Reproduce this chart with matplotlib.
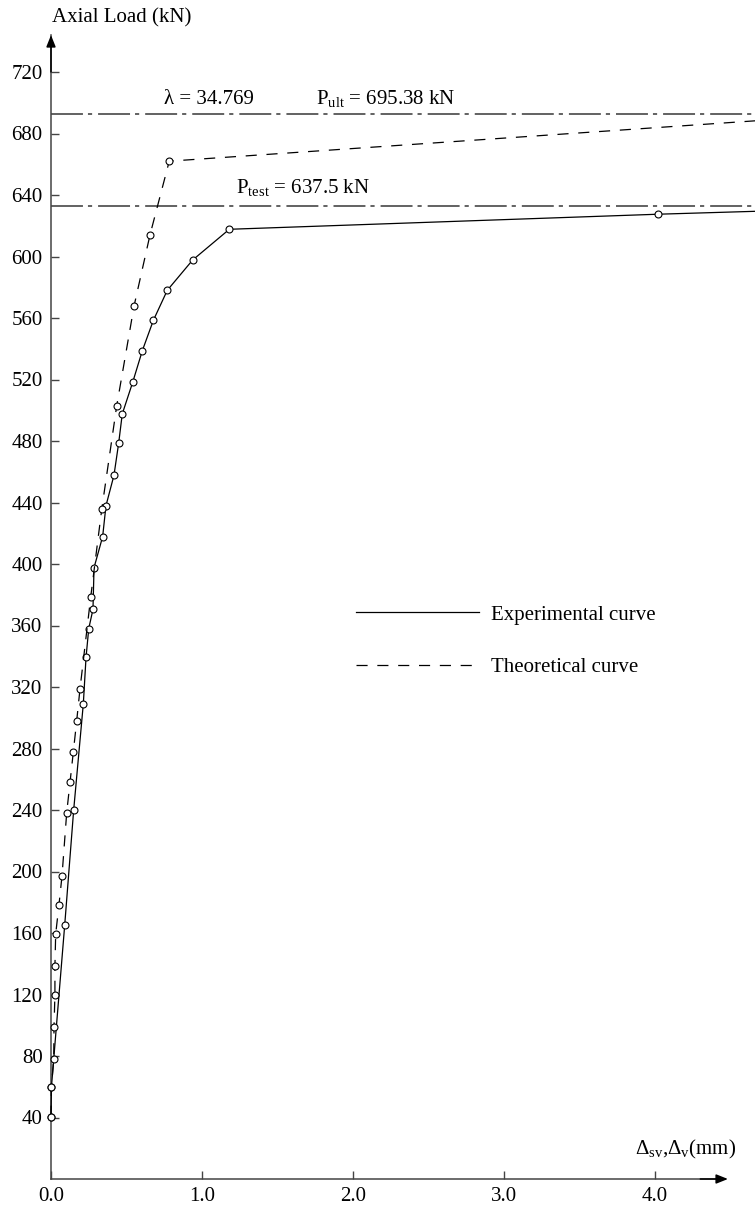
import matplotlib
matplotlib.use("Agg")
from matplotlib import pyplot as plt
from matplotlib.lines import Line2D

# experimental curve (displacement mm, load kN); last point only carries the line to the edge
exp_x = [0.0, 0.003, 0.091, 0.150, 0.214, 0.232, 0.250, 0.278, 0.285, 0.342, 0.364,
         0.417, 0.448, 0.472, 0.541, 0.605, 0.678, 0.770, 0.938, 1.181, 4.02, 4.70]
exp_y = [40.5, 60, 165.4, 239.8, 309, 339.3, 358, 370.5, 397.6, 417.8, 437.9,
         457.7, 478.5, 497.6, 518.2, 538.8, 558.5, 578, 597.7, 617.7, 627.5, 629.5]

# theoretical curve
theo_x = [0.0, 0.003, 0.018, 0.020, 0.026, 0.026, 0.031, 0.053, 0.073, 0.104, 0.126,
          0.148, 0.170, 0.192, 0.263, 0.336, 0.435, 0.550, 0.656, 0.783, 4.70]
theo_y = [40.5, 60, 78, 99, 120, 138.5, 159.3, 178.4, 197.3, 238.3, 258,
          277.9, 297.9, 318.7, 378.5, 435.6, 502.8, 567.8, 614.2, 662, 688.5]

p_ult_line = 693
p_test_line = 633

x_ticks = [0.0, 1.0, 2.0, 3.0, 4.0]
y_ticks = list(range(40, 721, 40))

plt.rcParams['font.family'] = ['Liberation Serif', 'DejaVu Serif']
plt.rcParams['mathtext.fontset'] = 'custom'
plt.rcParams['mathtext.rm'] = 'Liberation Serif'
plt.rcParams['mathtext.it'] = 'Liberation Serif:italic'
plt.rcParams['lines.scale_dashes'] = False
fs = 15

fig = plt.figure(figsize=(7.55, 12.07), dpi=100)
W, H = 755, 1207
ax = fig.add_axes([51 / W, 28 / H, (W - 51) / W, (1179 - 35) / H])
ax.set_xlim(0, 704 / 151)
ax.set_ylim(0, 1144 / 1.5375)

axis_col = '#444444'
for s in ['top', 'right']:
    ax.spines[s].set_visible(False)
for s in ['left', 'bottom']:
    ax.spines[s].set_color(axis_col)
    ax.spines[s].set_linewidth(1.1)
ax.spines['bottom'].set_bounds(0, 4.42)

ax.set_xticks(x_ticks)
ax.set_xticklabels(['%.1f' % v for v in x_ticks])
ax.set_yticks(y_ticks)
ax.tick_params(direction='in', length=5.5, width=1, color=axis_col,
               labelsize=fs, pad=6)

arrow = dict(arrowstyle='-|>,head_length=0.5,head_width=0.2', color='black',
             lw=1.1, mutation_scale=14, shrinkA=0, shrinkB=0)
ax.annotate('', xy=(4.483, 0), xytext=(4.3, 0), arrowprops=arrow)
ax.annotate('', xy=(0, 744), xytext=(0, 720), arrowprops=arrow)

dashdot = (0, (23, 3.6, 3, 4.3))
ax.axhline(p_ult_line, color='#555555', lw=1.3, linestyle=dashdot)
ax.axhline(p_test_line, color='#555555', lw=1.3, linestyle=dashdot)

mk = dict(marker='o', ms=5, mfc='white', mec='black', mew=0.8, clip_on=False, zorder=3)
ax.plot(exp_x, exp_y, color='black', lw=0.9, markevery=list(range(len(exp_x) - 1)), **mk)
ax.plot(theo_x, theo_y, color='black', lw=0.9, linestyle=(0, (8, 7)),
        markevery=list(range(len(theo_x) - 1)), **mk)

ax.text(0.748, 699.5, 'λ = 34.769', fontsize=fs, va='baseline')
ax.text(1.755, 699.5, r'P$_{\rm ult}$ = 695.38 kN', fontsize=fs, va='baseline')
ax.text(1.225, 641, r'P$_{\rm test}$ = 637.5 kN', fontsize=fs, va='baseline')

ax.text(3.868, 18.9, r'Δ$_{\rm sv}$,Δ$_{\rm v}$(mm)', fontsize=fs, va='center')
fig.text(52 / W, 1 - 18 / H, 'Axial Load (kN)', fontsize=fs, va='center')

handles = [Line2D([], [], color='black', lw=0.9),
           Line2D([], [], color='black', lw=0.9, linestyle=(0, (8, 7)))]
ax.legend(handles, ['Experimental curve', 'Theoretical curve'], loc='upper left',
          bbox_to_anchor=(356 / W, 1 - 605 / H), bbox_transform=fig.transFigure,
          frameon=False, fontsize=fs, handlelength=5.9, handletextpad=0.6,
          labelspacing=1.6, borderpad=0, borderaxespad=0)

fig.savefig('out.png', dpi=100)
